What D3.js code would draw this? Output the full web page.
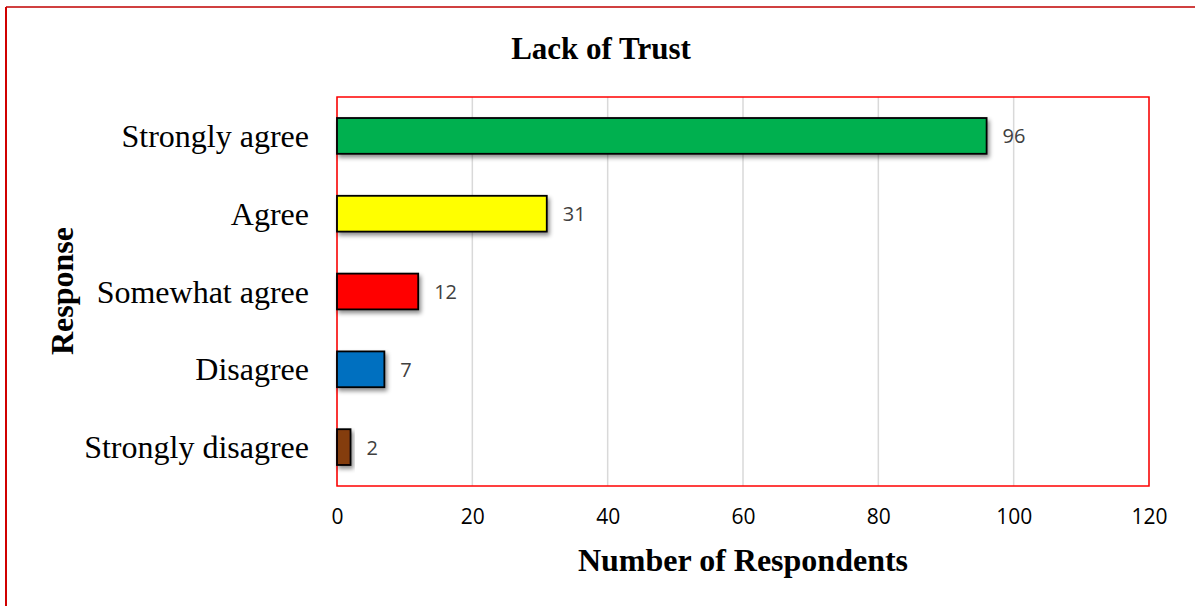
<!DOCTYPE html>
<html><head><meta charset="utf-8">
<script src="https://cdn.jsdelivr.net/npm/d3@7"></script>
<style>body{margin:0;background:#fff}svg{display:block}</style>
</head><body>
<svg id="c" width="1195" height="606"></svg>
<script>
const categories = ["Strongly agree","Agree","Somewhat agree","Disagree","Strongly disagree"];
const values = [96,31,12,7,2];
const colors = ["#00b050","#ffff00","#ff0000","#0070c0","#843c0c"];
const xTicks = [0,20,40,60,80,100,120];
const title = "Lack of Trust";
const xTitle = "Number of Respondents";
const yTitle = "Response";

const svg = d3.select("#c");
const m = {l:337, r:1149, t:97, b:486};

// outer frame
svg.append("line").attr("x1",6).attr("x2",1195).attr("y1",7).attr("y2",7).attr("stroke","#c00000").attr("stroke-width",1.5);
svg.append("line").attr("x1",6).attr("x2",6).attr("y1",7).attr("y2",606).attr("stroke","#d00000").attr("stroke-width",2);

const defs = svg.append("defs");
const f = defs.append("filter").attr("id","sh").attr("x","-20%").attr("y","-40%").attr("width","150%").attr("height","200%");
f.append("feDropShadow").attr("dx",2).attr("dy",3).attr("stdDeviation",2).attr("flood-color","#000").attr("flood-opacity",0.45);

const x = d3.scaleLinear().domain([0,120]).range([m.l,m.r]);
const y = d3.scaleBand().domain(categories).range([m.t,m.b]).paddingInner(0.54).paddingOuter(0.27);

// gridlines
svg.append("g").selectAll("line").data(xTicks.slice(1)).join("line")
  .attr("x1",d=>x(d)).attr("x2",d=>x(d)).attr("y1",m.t).attr("y2",m.b)
  .attr("stroke","#d9d9d9").attr("stroke-width",1.5);
// left axis line
svg.append("line").attr("x1",x(0)).attr("x2",x(0)).attr("y1",m.t).attr("y2",m.b).attr("stroke","#dcc8c8").attr("stroke-width",1.5);

// plot border
svg.append("rect").attr("x",m.l).attr("y",m.t).attr("width",m.r-m.l).attr("height",m.b-m.t)
  .attr("fill","none").attr("stroke","#ff0000").attr("stroke-width",1.5);

// bars
svg.append("g").selectAll("rect").data(categories).join("rect")
  .attr("x",x(0)).attr("y",d=>y(d)).attr("width",(d,i)=>x(values[i])-x(0)).attr("height",y.bandwidth())
  .attr("fill",(d,i)=>colors[i]).attr("stroke","#000").attr("stroke-width",1.8).attr("filter","url(#sh)");

// data labels
svg.append("g").selectAll("text").data(categories).join("text")
  .attr("x",(d,i)=>x(values[i])+16).attr("y",d=>y(d)+y.bandwidth()/2)
  .attr("dominant-baseline","central").attr("font-family","Open Sans, sans-serif").attr("font-size",20).attr("fill","#404040")
  .text((d,i)=>values[i]);

// category labels
svg.append("g").selectAll("text").data(categories).join("text")
  .attr("x",309).attr("y",d=>y(d)+y.bandwidth()/2)
  .attr("text-anchor","end").attr("dominant-baseline","central")
  .attr("font-family","Liberation Serif, Times New Roman, serif").attr("font-size",32).attr("fill","#000")
  .text(d=>d);

// x tick labels
const xa = svg.append("g").attr("transform",`translate(0,${m.b})`)
  .call(d3.axisBottom(x).tickValues(xTicks).tickSize(0).tickPadding(23));
xa.select(".domain").remove();
xa.selectAll("text").attr("font-family","Open Sans, sans-serif").attr("font-size",21).attr("fill","#000");

// titles
svg.append("text").attr("x",601).attr("y",59).attr("text-anchor","middle")
  .attr("font-family","Liberation Serif, serif").attr("font-weight","bold").attr("font-size",31).text(title);
svg.append("text").attr("x",743).attr("y",571).attr("text-anchor","middle")
  .attr("font-family","Liberation Serif, serif").attr("font-weight","bold").attr("font-size",32).text(xTitle);
svg.append("text").attr("transform","translate(73,291) rotate(-90)").attr("text-anchor","middle")
  .attr("font-family","Liberation Serif, serif").attr("font-weight","bold").attr("font-size",32).text(yTitle);
</script>
</body></html>
